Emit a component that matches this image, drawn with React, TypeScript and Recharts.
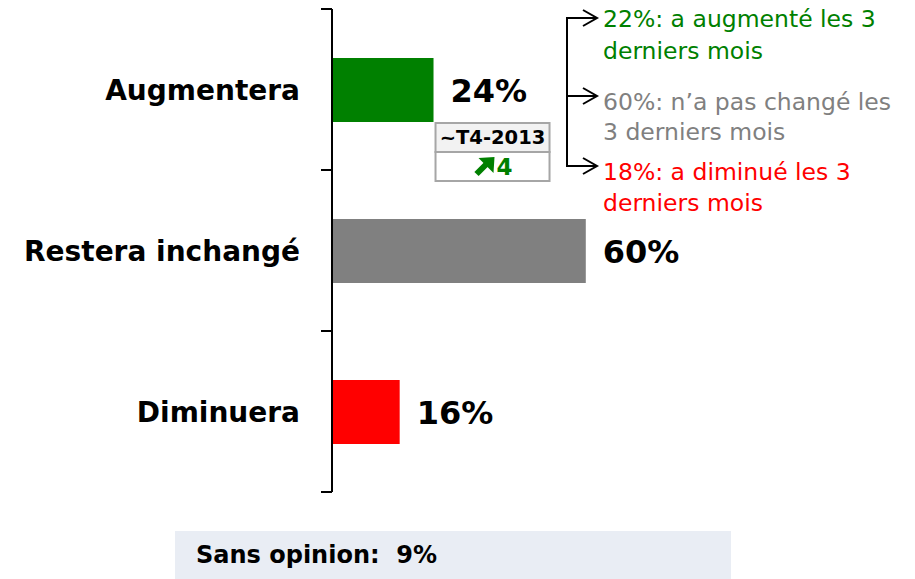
import React from 'react';
import { BarChart, Bar, XAxis, YAxis, Cell, LabelList } from 'recharts';

const categories = ['Augmentera', 'Restera inchangé', 'Diminuera'];
const values = [24, 60, 16];
const barColors = ['#008000', '#808080', '#FF0000'];

const breakdownLines = [
  { text: '22%: a augmenté les 3', color: '#008000' },
  { text: 'derniers mois', color: '#008000' },
  { text: '60%: n\u2019a pas changé les', color: '#808080' },
  { text: '3 derniers mois', color: '#808080' },
  { text: '18%: a diminué les 3', color: '#FF0000' },
  { text: 'derniers mois', color: '#FF0000' },
];

const previousLabel = '~T4-2013';
const previousChange = 4;
const noOpinionLabel = 'Sans opinion:';
const noOpinionValue = 9;

const data = categories.map((name, i) => ({ name, value: values[i], color: barColors[i] }));

const W = 915;
const H = 579;
const MARGIN = { top: 9, right: 160, bottom: 87, left: 0 };
const PLOT_H = H - MARGIN.top - MARGIN.bottom;
const HALF_BAND = PLOT_H / categories.length / 2;
const FONT = '"DejaVu Sans", Verdana, sans-serif';

const CategoryTick = (props: any) => {
  const { x, y, payload, index } = props;
  const last = index === categories.length - 1;
  return (
    <g>
      <line x1={x - 11} x2={x} y1={y - HALF_BAND} y2={y - HALF_BAND} stroke="#000" strokeWidth={2} />
      {last && <line x1={x - 11} x2={x} y1={y + HALF_BAND} y2={y + HALF_BAND} stroke="#000" strokeWidth={2} />}
      <text x={x - 32} y={y} dy={10} textAnchor="end" fontFamily={FONT} fontWeight="bold" fontSize={28} fill="#000">
        {payload.value}
      </text>
    </g>
  );
};

const ValueLabel = (props: any) => {
  const { x, y, width, height, value, index } = props;
  const ex = x + width;
  const cy = y + height / 2;
  const by = y + height;
  return (
    <g>
      <text x={ex + 17} y={cy} dy={12} fontFamily={FONT} fontWeight="bold" fontSize={32} fill="#000">
        {value}%
      </text>
      {index === 0 && (
        <g>
          <rect x={ex + 2} y={by + 1} width={114} height={29} fill="#F2F2F2" stroke="#A6A6A6" strokeWidth={2} />
          <rect x={ex + 2} y={by + 30} width={114} height={29} fill="#FFFFFF" stroke="#A6A6A6" strokeWidth={2} />
          <text x={ex + 2 + 57} y={by + 22} textAnchor="middle" fontFamily={FONT} fontWeight="bold" fontSize={19.5} fill="#000">
            {previousLabel}
          </text>
          <line x1={ex + 43} y1={by + 52} x2={ex + 54} y2={by + 41} stroke="#008000" strokeWidth={6} />
          <polygon
            points={`${ex + 61},${by + 35} ${ex + 45},${by + 36} ${ex + 60},${by + 51}`}
            fill="#008000"
          />
          <text x={ex + 63} y={by + 53} fontFamily={FONT} fontWeight="bold" fontSize={23} fill="#008000">
            {previousChange}
          </text>
        </g>
      )}
    </g>
  );
};

const baselines = [27, 59, 110, 140, 180, 211];
const arrowYs = [18, 96, 166];

export default function App() {
  return (
    <div style={{ position: 'absolute', left: 0, top: 0, width: W, height: H, background: '#fff', overflow: 'hidden' }}>
      <BarChart width={W} height={H} data={data} layout="vertical" margin={MARGIN} barSize={64}>
        <XAxis type="number" domain={[0, 100]} hide />
        <YAxis
          type="category"
          dataKey="name"
          width={332}
          axisLine={{ stroke: '#000', strokeWidth: 2 }}
          tickLine={false}
          tickSize={0}
          tickMargin={0}
          tick={<CategoryTick />}
          interval={0}
        />
        <Bar dataKey="value" isAnimationActive={false}>
          {data.map((d, i) => (
            <Cell key={i} fill={d.color} />
          ))}
          <LabelList dataKey="value" content={<ValueLabel />} />
        </Bar>
      </BarChart>
      <svg width={W} height={230} style={{ position: 'absolute', left: 0, top: 0 }}>
        <line x1={567} x2={567} y1={arrowYs[0]} y2={arrowYs[2]} stroke="#000" strokeWidth={2} />
        {arrowYs.map((ay, i) => (
          <g key={i}>
            <line x1={566} x2={596} y1={ay} y2={ay} stroke="#000" strokeWidth={2} />
            <polyline points={`583,${ay - 8} 597,${ay} 583,${ay + 8}`} fill="none" stroke="#000" strokeWidth={2} />
          </g>
        ))}
        {breakdownLines.map((l, i) => (
          <text key={i} x={603} y={baselines[i]} fontFamily={FONT} fontSize={23.5} fill={l.color}>
            {l.text}
          </text>
        ))}
      </svg>
      <div
        style={{
          position: 'absolute',
          left: 175,
          top: 531,
          width: 556,
          height: 48,
          background: '#E9EDF4',
          fontFamily: FONT,
          fontWeight: 'bold',
          fontSize: 24,
          lineHeight: '48px',
          paddingLeft: 21,
          boxSizing: 'border-box',
          whiteSpace: 'pre',
          color: '#000',
        }}
      >
        {noOpinionLabel + '  ' + noOpinionValue + '%'}
      </div>
    </div>
  );
}
